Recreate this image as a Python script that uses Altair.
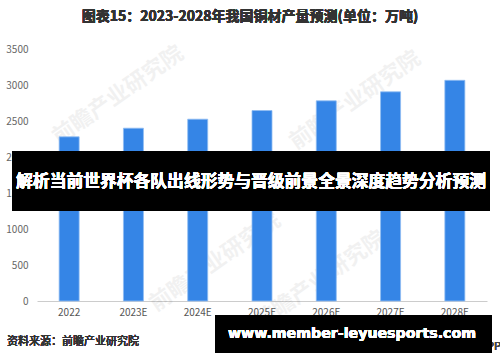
import altair as alt
import pandas as pd

years = ["2022", "2023E", "2024E", "2025E", "2026E", "2027E", "2028E"]
output = [2280, 2400, 2525, 2645, 2780, 2905, 3065]
y_ticks = [0, 500, 1000, 1500, 2000, 2500, 3000, 3500]

title_text = "图表15：2023-2028年我国铜材产量预测(单位：万吨)"
source_text = "资料来源：前瞻产业研究院"
app_text = "@前瞻经济学人APP"
banner_text = "解析当前世界杯各队出线形势与晋级前景全景深度趋势分析预测"
url_text = "www.member-leyuesports.com"
watermark_text = "前瞻产业研究院"

FONT = "Noto Sans CJK SC"
W, H = 450, 252
PL, PT = 37, 49

df = pd.DataFrame({"year": years, "value": output})

bars = alt.Chart(df).mark_bar(
    color="#3585e6", stroke="#8fbcf3", strokeWidth=0.8, size=20
).encode(
    x=alt.X("year:N", sort=years, title=None,
            scale=alt.Scale(paddingInner=0.69, paddingOuter=0.345),
            axis=alt.Axis(labelAngle=0, labelFont=FONT, labelFontSize=10,
                          labelColor="#555555", ticks=False, domainColor="#cccccc",
                          labelPadding=6)),
    y=alt.Y("value:Q", title=None,
            scale=alt.Scale(domain=[0, 3500], nice=False),
            axis=alt.Axis(values=y_ticks, format="d", grid=False, domain=False, ticks=False,
                          labelFont=FONT, labelFontSize=10, labelColor="#666666",
                          labelPadding=9)),
)

wm_df = pd.DataFrame({
    "t": [watermark_text] * 4,
    "px": [118 - PL, 355 - PL, 215 - PL, 320 - PL],
    "py": [95 - PT, 100 - PT, 262 - PT, 280 - PT],
})
watermarks = alt.Chart(wm_df).mark_text(
    font=FONT, fontSize=22, fontWeight="bold", color="#000000", opacity=0.05, angle=325
).encode(x=alt.X("px:Q", scale=None), y=alt.Y("py:Q", scale=None), text="t:N")

title = alt.Chart(df).mark_text(
    font=FONT, fontSize=14, fontWeight="bold", color="#333333", align="center"
).encode(x=alt.value(250 - PL), y=alt.value(17 - PT), text=alt.value(title_text))

source = alt.Chart(df).mark_text(
    font=FONT, fontSize=11, color="#333333", align="left"
).encode(x=alt.value(7 - PL), y=alt.value(342 - PT), text=alt.value(source_text))

app = alt.Chart(df).mark_text(
    font=FONT, fontSize=11, color="#444444", align="left"
).encode(x=alt.value(404 - PL), y=alt.value(347 - PT), text=alt.value(app_text))

banner_rect = alt.Chart(df).mark_rect(color="#000000", opacity=0.6).encode(
    x=alt.value(12 - PL), x2=alt.value(490 - PL),
    y=alt.value(151 - PT), y2=alt.value(211 - PT))

banner = alt.Chart(df).mark_text(
    font=FONT, fontSize=16.8, fontWeight="bold", color="#ffffff", align="center"
).encode(x=alt.value(251 - PL), y=alt.value(182 - PT), text=alt.value(banner_text))

url_rect = alt.Chart(df).mark_rect(color="#000000", opacity=0.6).encode(
    x=alt.value(215 - PL), x2=alt.value(492 - PL),
    y=alt.value(315 - PT), y2=alt.value(353 - PT))

url = alt.Chart(df).mark_text(
    font="DejaVu Sans", fontSize=14.2, fontWeight="bold", color="#ffffff", align="center"
).encode(x=alt.value(352 - PL), y=alt.value(334 - PT), text=alt.value(url_text))

chart = alt.layer(
    watermarks, bars, title, source, app, banner_rect, banner, url_rect, url
).properties(
    width=W, height=H,
    autosize=alt.AutoSizeParams(type="none"),
    padding={"left": PL, "top": PT, "right": 500 - PL - W, "bottom": 362 - PT - H},
    background="#ffffff",
).configure_view(stroke=None)

chart.save("out.html", embed_options={"renderer": "svg", "actions": False})
